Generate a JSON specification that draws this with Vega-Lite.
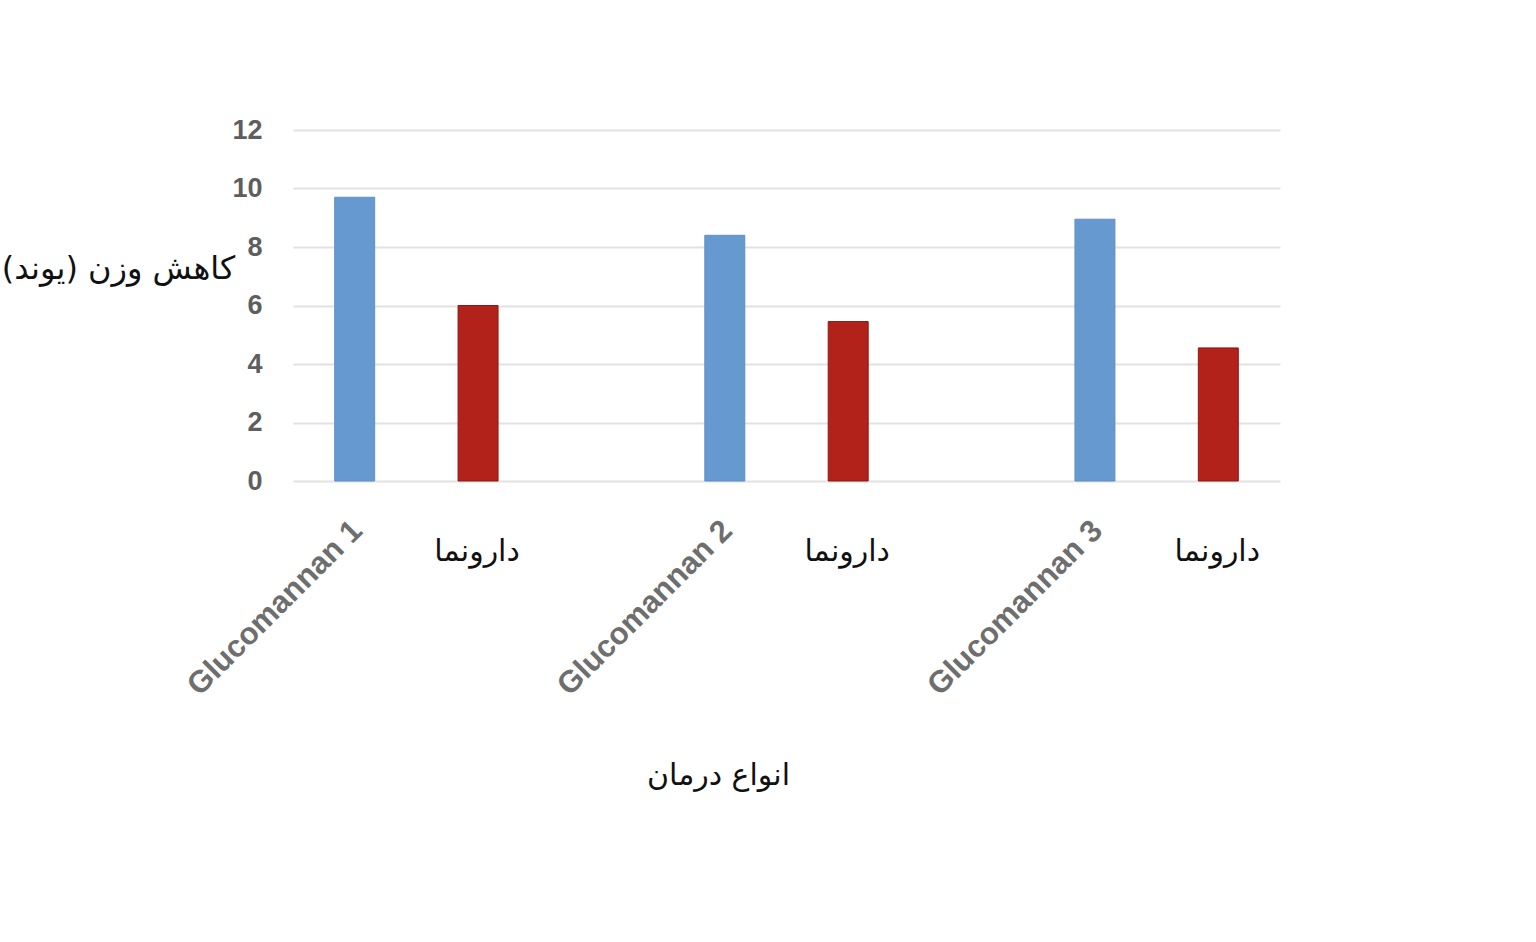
{
  "$schema": "https://vega.github.io/schema/vega-lite/v6.json",
  "autosize": "none",
  "width": 987,
  "height": 351,
  "padding": {"left": 293, "top": 130, "right": 256, "bottom": 461},
  "background": "white",
  "data": {
    "values": [
      {"slot": "g1", "group": "Glucomannan", "label": "Glucomannan 1", "loss": 9.7},
      {"slot": "p1", "group": "Placebo", "label": "دارونما", "loss": 6.0},
      {"slot": "g2", "group": "Glucomannan", "label": "Glucomannan 2", "loss": 8.4},
      {"slot": "p2", "group": "Placebo", "label": "دارونما", "loss": 5.45},
      {"slot": "g3", "group": "Glucomannan", "label": "Glucomannan 3", "loss": 8.95},
      {"slot": "p3", "group": "Placebo", "label": "دارونما", "loss": 4.55}
    ]
  },
  "layer": [
    {
      "mark": {"type": "bar", "strokeWidth": 1},
      "encoding": {
        "x": {
          "field": "slot",
          "type": "nominal",
          "scale": {
            "domain": ["g1", "p1", "x1", "g2", "p2", "x2", "g3", "p3"],
            "paddingInner": 0.676,
            "paddingOuter": 0.338
          },
          "axis": {
            "title": "انواع درمان",
            "titleFont": "DejaVu Sans",
            "titleFontSize": 30,
            "titleFontWeight": "normal",
            "titleColor": "#111111",
            "titleX": 425,
            "titleY": 294,
            "titleAlign": "center",
            "titleBaseline": "middle",
            "domain": false,
            "ticks": false,
            "grid": false,
            "labels": false
          }
        },
        "y": {
          "field": "loss",
          "type": "quantitative",
          "scale": {"domain": [0, 12], "nice": false},
          "axis": {
            "values": [0, 2, 4, 6, 8, 10, 12],
            "title": "کاهش وزن (یوند)",
            "titleFont": "DejaVu Sans",
            "titleFontSize": 32,
            "titleFontWeight": "normal",
            "titleColor": "#111111",
            "titleAngle": 0,
            "titleX": -175,
            "titleY": 138,
            "titleAlign": "center",
            "titleBaseline": "middle",
            "domain": false,
            "ticks": false,
            "labelPadding": 31,
            "labelFont": "Liberation Sans",
            "labelFontSize": 27,
            "labelFontWeight": "bold",
            "labelColor": "#5e5e5e",
            "gridColor": "#e2e2e2",
            "gridWidth": 2
          }
        },
        "fill": {
          "field": "group",
          "type": "nominal",
          "scale": {"domain": ["Glucomannan", "Placebo"], "range": ["#6699d0", "#b2211a"]},
          "legend": null
        },
        "stroke": {
          "field": "group",
          "type": "nominal",
          "scale": {"domain": ["Glucomannan", "Placebo"], "range": ["#5f8fc4", "#8e1812"]},
          "legend": null
        }
      }
    },
    {
      "transform": [{"filter": "datum.group == 'Glucomannan'"}],
      "mark": {
        "type": "text",
        "angle": 315,
        "align": "right",
        "baseline": "middle",
        "dx": -30,
        "dy": 34,
        "font": "Liberation Sans",
        "fontSize": 31,
        "fontWeight": "bold",
        "color": "#6e6e6e"
      },
      "encoding": {
        "x": {"field": "slot", "type": "nominal"},
        "y": {"datum": 0, "type": "quantitative"},
        "text": {"field": "label"}
      }
    },
    {
      "transform": [{"filter": "datum.group == 'Placebo'"}],
      "mark": {
        "type": "text",
        "align": "center",
        "baseline": "alphabetic",
        "dx": -1,
        "dy": 80,
        "font": "DejaVu Sans",
        "fontSize": 30,
        "color": "#111111"
      },
      "encoding": {
        "x": {"field": "slot", "type": "nominal"},
        "y": {"datum": 0, "type": "quantitative"},
        "text": {"field": "label"}
      }
    }
  ],
  "config": {"view": {"stroke": null}}
}
